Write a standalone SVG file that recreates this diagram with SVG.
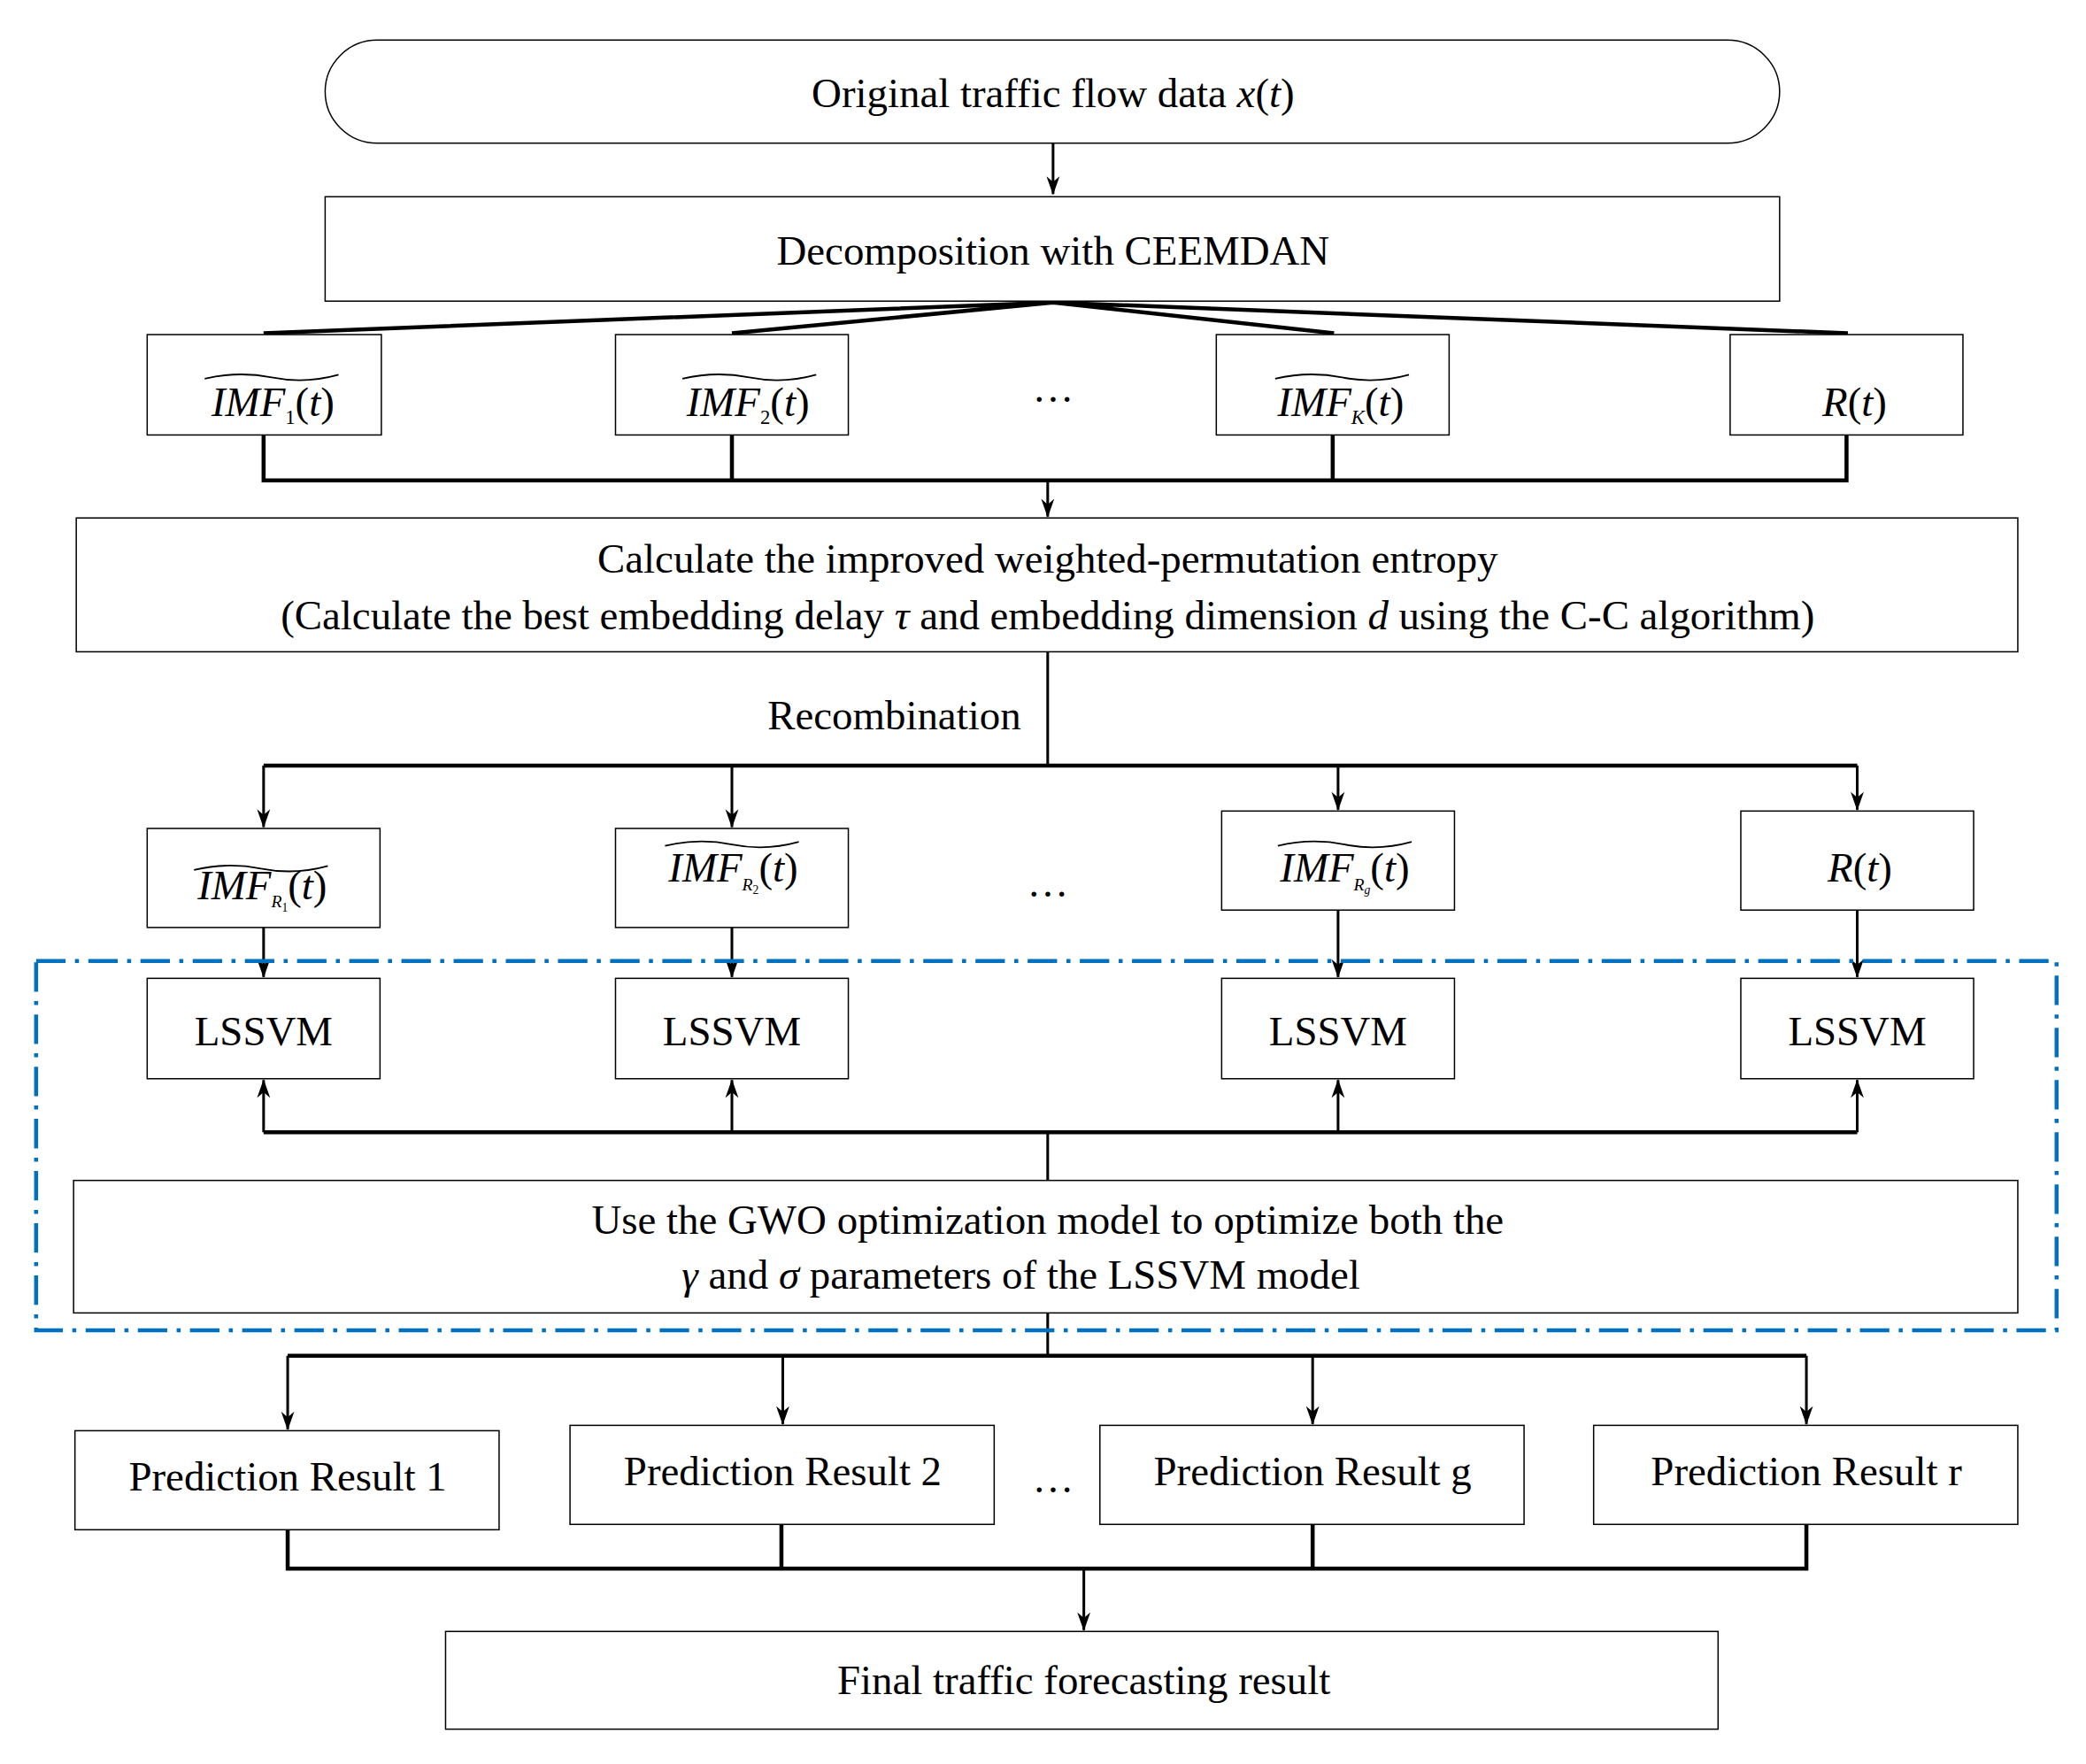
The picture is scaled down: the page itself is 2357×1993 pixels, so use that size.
<svg xmlns="http://www.w3.org/2000/svg" width="2357" height="1993" viewBox="0 0 2357 1993">
<style>
.b{fill:#fff;stroke:#000;stroke-width:1}
.t{font-family:"Liberation Serif",serif;font-size:31px;fill:#000;text-anchor:middle}
.i{font-style:italic}
.c{fill:none;stroke:#000;stroke-width:3}
.a{fill:none;stroke:#000;stroke-width:2.2;marker-end:url(#ah)}
.tl{fill:none;stroke:#000;stroke-width:1.2}
</style>
<defs><marker id="ah" markerWidth="10" markerHeight="14" refX="5" refY="13" orient="auto" markerUnits="userSpaceOnUse" viewBox="0 0 10 14"><path d="M0,0 L5,14 L10,0 L5,4 Z" transform="rotate(0)" fill="#000"/></marker>
<marker id="ad" markerWidth="14" markerHeight="20" refX="19" refY="7" orient="auto" markerUnits="userSpaceOnUse" viewBox="0 0 20 14"><path d="M0,0 L20,7 L0,14 L6,7 Z" fill="#000"/></marker></defs>
<rect width="2357" height="1993" fill="#fff"/>
<g transform="scale(1.5119,1.5121)">
<g id="connectors">
<path class="c" style="stroke-width:2;marker-end:url(#ad)" d="M787,107 V145"/>
<path class="c" d="M787,226 L197,249 M787,226 L547,249 M787,226 L997,249 M787,226 L1381,249"/>
<path class="c" d="M197,325 V359 H1380 V325 M547,325 V359 M996,325 V359"/>
<path class="c" style="stroke-width:2;marker-end:url(#ad)" d="M783,359 V386"/>
<path class="c" style="stroke-width:2" d="M783,487 V572"/>
<path class="c" d="M197,572 H1388"/>
<path class="c" style="stroke-width:2;marker-end:url(#ad)" d="M197,572 V618"/>
<path class="c" style="stroke-width:2;marker-end:url(#ad)" d="M547,572 V618"/>
<path class="c" style="stroke-width:2;marker-end:url(#ad)" d="M1000,572 V605"/>
<path class="c" style="stroke-width:2;marker-end:url(#ad)" d="M1388,572 V605"/>
<path class="c" style="stroke-width:2;marker-end:url(#ad)" d="M197,693 V730"/>
<path class="c" style="stroke-width:2;marker-end:url(#ad)" d="M547,693 V730"/>
<path class="c" style="stroke-width:2;marker-end:url(#ad)" d="M1000,680 V730"/>
<path class="c" style="stroke-width:2;marker-end:url(#ad)" d="M1388,680 V730"/>
<path class="c" d="M197,846 H1388"/>
<path class="c" style="stroke-width:2;marker-end:url(#ad)" d="M197,846 V807"/>
<path class="c" style="stroke-width:2;marker-end:url(#ad)" d="M547,846 V807"/>
<path class="c" style="stroke-width:2;marker-end:url(#ad)" d="M1000,846 V807"/>
<path class="c" style="stroke-width:2;marker-end:url(#ad)" d="M1388,846 V807"/>
<path class="c" style="stroke-width:2" d="M783,846 V882 M783,981 V1013"/>
<path class="c" d="M215,1013 H1350"/>
<path class="c" style="stroke-width:2;marker-end:url(#ad)" d="M215,1013 V1068"/>
<path class="c" style="stroke-width:2;marker-end:url(#ad)" d="M585,1013 V1064"/>
<path class="c" style="stroke-width:2;marker-end:url(#ad)" d="M981,1013 V1064"/>
<path class="c" style="stroke-width:2;marker-end:url(#ad)" d="M1350,1013 V1064"/>
<path class="c" d="M215,1143 V1172 H1350 V1139 M584,1139 V1172 M981,1139 V1172"/>
<path class="c" style="stroke-width:2;marker-end:url(#ad)" d="M810,1172 V1218"/>
</g>
<g id="n-original"><rect class="b" x="243" y="30" width="1087" height="77" rx="39"/><text class="t" x="787" y="80">Original traffic flow data <tspan class="i">x</tspan>(<tspan class="i">t</tspan>)</text></g>
<g id="n-decomp"><rect class="b" x="243" y="147" width="1087" height="78"/><text class="t" x="787" y="198">Decomposition with CEEMDAN</text></g>
<g id="n-imf1"><rect class="b" x="110" y="250" width="175" height="75"/><path class="tl" d="M153,283 q25,-6 50,-1 t50,-2"/><text class="t" x="204" y="311"><tspan class="i">IMF</tspan><tspan font-size="15" dy="6">1</tspan><tspan dy="-6">(</tspan><tspan class="i">t</tspan>)</text></g>
<g id="n-imf2"><rect class="b" x="460" y="250" width="174" height="75"/><path class="tl" d="M510,283 q25,-6 50,-1 t50,-2"/><text class="t" x="559" y="311"><tspan class="i">IMF</tspan><tspan font-size="15" dy="6">2</tspan><tspan dy="-6">(</tspan><tspan class="i">t</tspan>)</text></g>
<g id="n-dots1"><text class="t" x="787" y="300">…</text></g>
<g id="n-imfk"><rect class="b" x="909" y="250" width="174" height="75"/><path class="tl" d="M953,283 q25,-6 50,-1 t50,-2"/><text class="t" x="1002" y="311"><tspan class="i">IMF</tspan><tspan font-size="15" class="i" dy="6">K</tspan><tspan dy="-6">(</tspan><tspan class="i">t</tspan>)</text></g>
<g id="n-rt"><rect class="b" x="1293" y="250" width="174" height="75"/><text class="t" x="1386" y="311" font-size="34"><tspan class="i">R</tspan>(<tspan class="i">t</tspan>)</text></g>
<g id="n-entropy"><rect class="b" x="57" y="387" width="1451" height="100"/><text class="t" x="783" y="428">Calculate the improved weighted-permutation entropy</text><text class="t" x="783" y="470" font-size="28">(Calculate the best embedding delay <tspan class="i">τ</tspan> and embedding dimension <tspan class="i">d</tspan> using the C-C algorithm)</text></g>
<g id="n-recomb-label"><text class="t" x="763" y="545" text-anchor="end" style="text-anchor:end">Recombination</text></g>
<g id="n-imfr1"><rect class="b" x="110" y="619" width="174" height="74"/><path class="tl" d="M145,650 q25,-6 50,-1 t50,-2"/><text class="t" x="196" y="672" font-size="28"><tspan class="i">IMF</tspan><tspan font-size="13" class="i" dy="6">R</tspan><tspan font-size="9" dy="3">1</tspan><tspan dy="-9">(</tspan><tspan class="i">t</tspan>)</text></g>
<g id="n-imfr2"><rect class="b" x="460" y="619" width="174" height="74"/><path class="tl" d="M497,632 q25,-6 50,-1 t50,-2"/><text class="t" x="548" y="659" font-size="28"><tspan class="i">IMF</tspan><tspan font-size="13" class="i" dy="6">R</tspan><tspan font-size="9" dy="3">2</tspan><tspan dy="-9">(</tspan><tspan class="i">t</tspan>)</text></g>
<g id="n-dots2"><text class="t" x="783" y="670">…</text></g>
<g id="n-imfrg"><rect class="b" x="913" y="606" width="174" height="74"/><path class="tl" d="M955,632 q25,-6 50,-1 t50,-2"/><text class="t" x="1005" y="659" font-size="28"><tspan class="i">IMF</tspan><tspan font-size="13" class="i" dy="6">R</tspan><tspan font-size="9" class="i" dy="3">g</tspan><tspan dy="-9">(</tspan><tspan class="i">t</tspan>)</text></g>
<g id="n-rt2"><rect class="b" x="1301" y="606" width="174" height="74"/><text class="t" x="1390" y="659"><tspan class="i">R</tspan>(<tspan class="i">t</tspan>)</text></g>
<g id="n-lssvm1"><rect class="b" x="110" y="731" width="174" height="75"/><text class="t" x="197" y="781">LSSVM</text></g>
<g id="n-lssvm2"><rect class="b" x="460" y="731" width="174" height="75"/><text class="t" x="547" y="781">LSSVM</text></g>
<g id="n-lssvm3"><rect class="b" x="913" y="731" width="174" height="75"/><text class="t" x="1000" y="781">LSSVM</text></g>
<g id="n-lssvm4"><rect class="b" x="1301" y="731" width="174" height="75"/><text class="t" x="1388" y="781">LSSVM</text></g>
<g id="n-gwo"><rect class="b" x="55" y="882" width="1453" height="99"/><text class="t" x="783" y="922">Use the GWO optimization model to optimize both the</text><text class="t" x="763" y="963"><tspan class="i">γ</tspan> and <tspan class="i">σ</tspan> parameters of the LSSVM model</text></g>
<g id="n-group"><rect x="27" y="718" width="1510" height="276" fill="none" stroke="#0070c0" stroke-width="3" stroke-dasharray="22,7,3,7"/></g>
<g id="n-pred1"><rect class="b" x="56" y="1069" width="317" height="74"/><text class="t" x="215" y="1114">Prediction Result 1</text></g>
<g id="n-pred2"><rect class="b" x="426" y="1065" width="317" height="74"/><text class="t" x="585" y="1110">Prediction Result 2</text></g>
<g id="n-dots3"><text class="t" x="787" y="1115">…</text></g>
<g id="n-predg"><rect class="b" x="822" y="1065" width="317" height="74"/><text class="t" x="981" y="1110">Prediction Result g</text></g>
<g id="n-predr"><rect class="b" x="1191" y="1065" width="317" height="74"/><text class="t" x="1350" y="1110">Prediction Result r</text></g>
<g id="n-final"><rect class="b" x="333" y="1219" width="951" height="73"/><text class="t" x="810" y="1266">Final traffic forecasting result</text></g>
</g>
</svg>
